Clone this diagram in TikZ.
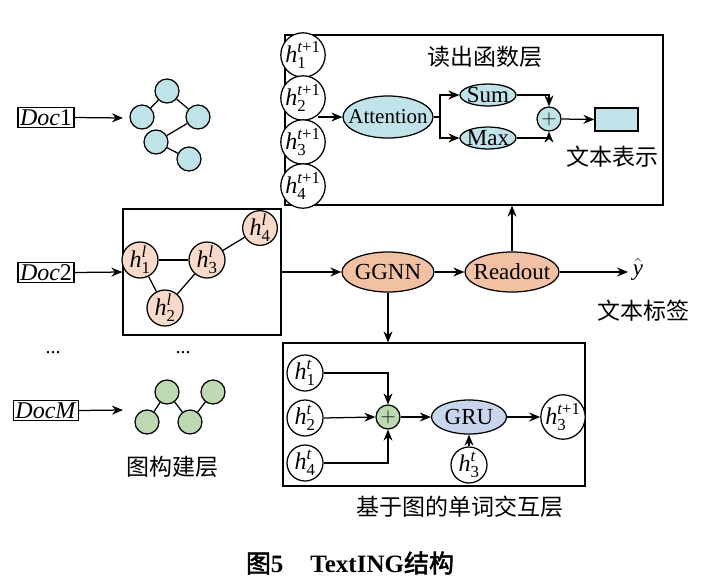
\documentclass[tikz,border=0pt]{standalone}
\usepackage{amsmath}
\usepackage{fontspec}
\setmainfont{Liberation Serif}
\newfontfamily\cjk[AutoFakeBold=2]{Noto Sans CJK SC}
\usetikzlibrary{arrows.meta,shapes.geometric,positioning}
\definecolor{lblue}{HTML}{C0E3E9}
\definecolor{peach}{HTML}{F9DACA}
\definecolor{salmon}{HTML}{F2C0A3}
\definecolor{lgreen}{HTML}{BDD9B1}
\definecolor{lav}{HTML}{C9D5EC}
\newcommand\hv[2]{$\textit{h}_{\text{#1}}^{#2}$}
\newcommand\tpo{\textit{t}\text{+1}}
\begin{document}
\begin{tikzpicture}[x=1pt,y=-1pt,
  line width=1.25pt,
  arr/.style={-{Stealth[length=11pt,width=9pt]}},
  gn/.style={circle,draw,minimum size=24pt,inner sep=0pt},
  hn/.style={circle,draw,minimum size=36pt,inner sep=0pt,fill=white,font=\fontsize{24}{24}\selectfont},
  pn/.style={circle,draw,minimum size=36pt,inner sep=0pt,fill=peach,font=\fontsize{24}{24}\selectfont},
  el/.style={ellipse,draw,inner sep=-8pt,font=\fontsize{23}{23}\selectfont},
  docbox/.style={draw,inner sep=2pt,font=\fontsize{24}{24}\selectfont},
  frame/.style={draw,rectangle,inner sep=0pt},
  plusn/.style={circle,draw,minimum size=24pt,inner sep=0pt,font=\fontsize{20}{20}\selectfont},
  zh/.style={font=\cjk\fontsize{23}{23}\selectfont},
  ]
\useasboundingbox (0,0) rectangle (706,581);

% ---------- left column: documents ----------
\node[docbox] (doc1) at (46,117.5) {\textit{Doc}1};
\node[docbox] (doc2) at (46,272.5) {\textit{Doc}2};
\node[docbox] (docM) at (46,410.5) {\textit{DocM}};
\node[font=\fontsize{20}{20}\selectfont] (dots1) at (53,353) {...};
\node[font=\fontsize{20}{20}\selectfont] (dots2) at (183,353) {...};

% graph 1 (blue)
\node[gn,fill=lblue] (g1a) at (167,91) {};
\node[gn,fill=lblue] (g1b) at (142,117) {};
\node[gn,fill=lblue] (g1c) at (198,117) {};
\node[gn,fill=lblue] (g1d) at (156,142) {};
\node[gn,fill=lblue] (g1e) at (189,159) {};
\draw (g1a) -- (g1b);
\draw (g1a) -- (g1c);
\draw (g1c) -- (g1d);
\draw (g1d) -- (g1e);
\coordinate (g1in) at (123,118);
\draw[arr] (doc1.east) -- (g1in);

% graph M (green)
\node[gn,fill=lgreen] (gma) at (167,392) {};
\node[gn,fill=lgreen] (gmb) at (147,422) {};
\node[gn,fill=lgreen] (gmc) at (190,422) {};
\node[gn,fill=lgreen] (gmd) at (213,392) {};
\draw (gma) -- (gmb);
\draw (gma) -- (gmc);
\draw (gmc) -- (gmd);
\coordinate (gmin) at (123,410);
\draw[arr] (docM.east) -- (gmin);
\node[zh] (lblgraph) at (172,467) {图构建层};

% graph 2 box (peach)
\node[frame,minimum width=158pt,minimum height=126pt] (midbox) at (202,272) {};
\node[pn] (h1l) at (140,260) {\hv{1}{\textit{l}}};
\node[pn] (h3l) at (207,260) {\hv{3}{\textit{l}}};
\node[pn,minimum size=34pt] (h4l) at (260,228) {\hv{4}{\textit{l}}};
\node[pn] (h2l) at (165,308) {\hv{2}{\textit{l}}};
\draw (h1l) -- (h3l);
\draw (h3l) -- (h4l);
\draw (h1l) -- (h2l);
\draw (h2l) -- (h3l);
\draw[arr] (doc2.east) -- (midbox.west);

% ---------- middle row ----------
\node[el,fill=salmon,minimum width=92pt,minimum height=40pt] (ggnn) at (388,272) {GGNN};
\node[el,fill=salmon,minimum width=94pt,minimum height=40pt] (readout) at (512,272) {Readout};
\node[font=\fontsize{23}{23}\selectfont,inner sep=1pt] (yhat) at (638,269) {$\hat{\text{\itshape y}}$};
\node[zh] (lbllabel) at (643,311) {文本标签};
\coordinate (yin) at (628,272);
\draw[arr] (midbox.east) -- (ggnn.west);
\draw[arr] (ggnn.east) -- (readout.west);
\draw[arr] (readout.east) -- (yin);

% ---------- top box: readout layer ----------
\node[frame,minimum width=378pt,minimum height=170pt] (topbox) at (474,120) {};
\node[hn] (t1) at (303,55) {\hv{1}{\tpo}};
\node[hn] (t2) at (303,98) {\hv{2}{\tpo}};
\node[hn] (t3) at (303,142) {\hv{3}{\tpo}};
\node[hn] (t4) at (303,186) {\hv{4}{\tpo}};
\node[zh] (lbltop) at (485,57) {读出函数层};
\node[el,fill=lblue,minimum width=90pt,minimum height=42pt,font=\fontsize{21}{21}\selectfont] (att) at (388,117) {Attention};
\node[el,fill=lblue,minimum width=56pt,minimum height=22pt] (sum) at (488,95) {Sum};
\node[el,fill=lblue,minimum width=56pt,minimum height=22pt] (max) at (488,138) {Max};
\node[plusn,fill=lblue] (tplus) at (549,119) {$+$};
\node[draw,fill=lblue,minimum width=43pt,minimum height=23pt,inner sep=0pt] (rep) at (616.5,119.5) {};
\node[zh] (lblrep) at (612,157) {文本表示};
\coordinate (attin) at (318,117);
\coordinate (br) at (440,117);
\draw[arr] (attin) -- (att.west);
\draw (att.east) -- (br);
\draw[arr] (br) |- (sum.west);
\draw[arr] (br) |- (max.west);
\draw[arr] (sum.east) -| (tplus.north);
\draw[arr] (max.east) -| (tplus.south);
\draw[arr] (tplus.east) -- (rep.west);
\draw[arr] (readout.north) -- (readout.north |- topbox.south);

% ---------- bottom box: word interaction layer ----------
\node[frame,minimum width=302pt,minimum height=143pt] (botbox) at (434,414.5) {};
\node[hn] (b1) at (305,373) {\hv{1}{\textit{t}}};
\node[hn] (b2) at (305,418) {\hv{2}{\textit{t}}};
\node[hn] (b4) at (305,463) {\hv{4}{\textit{t}}};
\node[plusn,fill=lgreen] (bplus) at (388,417) {$+$};
\node[el,fill=lav,minimum width=75pt,minimum height=34pt] (gru) at (469,417) {GRU};
\node[hn] (b3n) at (563,417) {\hv{3}{\tpo}};
\node[hn] (b3) at (469,465) {\hv{3}{\textit{t}}};
\node[zh] (lblbot) at (460,507) {基于图的单词交互层};
\draw[arr] (b1.east) -| (bplus.north);
\draw[arr] (b2.east) -- (bplus.west);
\draw[arr] (b4.east) -| (bplus.south);
\draw[arr] (bplus.east) -- (gru.west);
\draw[arr] (gru.east) -- (b3n.west);
\draw[arr] (b3.north) -- (gru.south);
\draw[arr] (ggnn.south) -- (ggnn.south |- botbox.north);

% ---------- caption ----------
\node[font=\bfseries\fontsize{25}{25}\selectfont] (caption) at (350,563) {{\cjk\bfseries 图}5\hspace{27pt}TextING{\cjk\bfseries 结构}};
\end{tikzpicture}
\end{document}
